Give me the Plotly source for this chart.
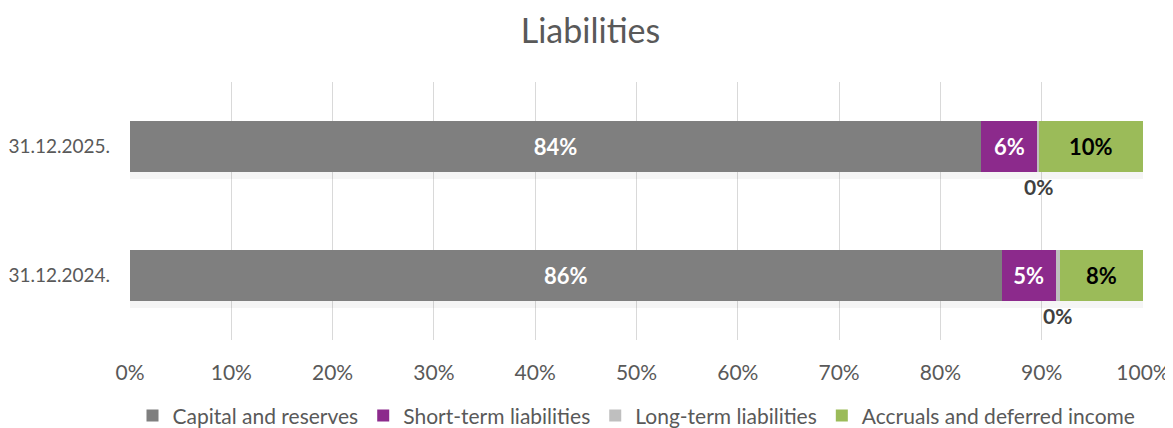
import plotly.graph_objects as go

# data (percent of total)
categories = ["31.12.2024.", "31.12.2025."]
capital_reserves = [86.05, 84.0]
short_term = [5.33, 5.6]
long_term = [0.42, 0.1]
accruals = [8.2, 10.3]
tick_values = list(range(0, 101, 10))
tick_labels = [f"{v}%" for v in tick_values]

series = [
    ("Capital and reserves", capital_reserves, "#7f7f7f", "white"),
    ("Short-term liabilities", short_term, "#8c2a8c", "white"),
    ("Long-term liabilities", long_term, "#bfbfbf", None),
    ("Accruals and deferred income", accruals, "#9bbb59", "black"),
]

FONT = "Lato, 'Open Sans', sans-serif"

fig = go.Figure()

# soft drop shadow under each full bar (on the base axis, drawn below)
totals = [sum(v) for v in zip(capital_reserves, short_term, long_term, accruals)]
for alpha, off in [(0.04, -0.05), (0.06, -0.035), (0.08, -0.02)]:
    fig.add_trace(
        go.Bar(
            y=categories,
            x=totals,
            orientation="h",
            width=0.4,
            offset=-0.2 + off,
            marker=dict(color=f"rgba(0,0,0,{alpha})", line_width=0),
            showlegend=False,
            hoverinfo="skip",
            yaxis="y",
        )
    )

for name, vals, color, txtcolor in series:
    fig.add_trace(
        go.Bar(
            name=name,
            y=categories,
            x=vals,
            orientation="h",
            width=0.4,
            marker=dict(color=color, line_width=0),
            text=[f"{round(v)}%" for v in vals] if txtcolor else None,
            textposition="inside" if txtcolor else "none",
            insidetextanchor="middle",
            textfont=dict(family=FONT, size=22, color=txtcolor or "black", weight="bold"),
            textangle=0,
            yaxis="y2",
        )
    )

# small long-term labels sit under the bar
for i, cat in enumerate(categories):
    mid = capital_reserves[i] + short_term[i] + long_term[i] / 2
    fig.add_annotation(
        x=mid, y=cat, xref="x", yref="y2",
        text=f"<b>{round(long_term[i])}%</b>",
        showarrow=False, yshift=-40,
        font=dict(family=FONT, size=21, color="#404040"),
    )

# page body adds an 8px offset, so the figure is 8px smaller than the window
fig.update_layout(
    barmode="stack",
    width=1165,
    height=420,
    margin=dict(l=122, r=30, t=74, b=88, autoexpand=False),
    paper_bgcolor="white",
    plot_bgcolor="white",
    title=dict(
        text="Liabilities", x=0.5, xanchor="center", y=0.945, yanchor="middle",
        font=dict(family=FONT, size=34, color="#595959"),
    ),
    font=dict(family=FONT, size=21, color="#595959"),
    legend=dict(
        orientation="h", x=0.5, xanchor="center", y=-0.215, yanchor="top",
        font=dict(family=FONT, size=21, color="#595959"),
        traceorder="normal",
    ),
    xaxis=dict(
        range=[0, 100], tickmode="array", tickvals=tick_values, ticktext=tick_labels,
        showgrid=True, gridcolor="#d9d9d9", gridwidth=1,
        zeroline=False, showline=False, ticks="", ticklabelstandoff=18,
        tickfont=dict(family=FONT, size=21, color="#595959"),
        fixedrange=True,
    ),
    yaxis=dict(
        categoryorder="array", categoryarray=categories, range=[-0.5, 1.5],
        showgrid=False, zeroline=False, ticks="", ticklabelstandoff=19,
        tickfont=dict(family=FONT, size=19, color="#595959"),
        fixedrange=True,
    ),
    yaxis2=dict(
        overlaying="y", categoryorder="array", categoryarray=categories,
        range=[-0.5, 1.5], visible=False, fixedrange=True,
    ),
)

fig.write_html("out.html")
